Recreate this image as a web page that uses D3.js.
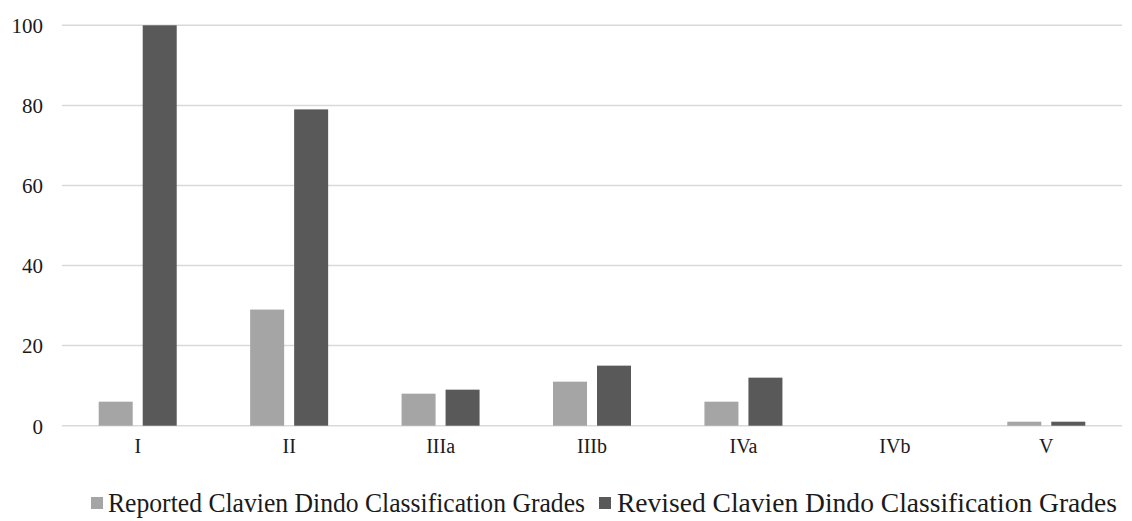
<!DOCTYPE html>
<html>
<head>
<meta charset="utf-8">
<script src="https://cdn.jsdelivr.net/npm/d3@7"></script>
<style>
  html, body { margin: 0; padding: 0; background: #fff; }
  svg { display: block; }
</style>
</head>
<body>
<svg id="chart" width="1132" height="521"></svg>
<script>
const categories = ["I", "II", "IIIa", "IIIb", "IVa", "IVb", "V"];
const reported = [6, 29, 8, 11, 6, 0, 1];
const revised = [100, 79, 9, 15, 12, 0, 1];
const seriesNames = ["Reported Clavien Dindo Classification Grades", "Revised Clavien Dindo Classification Grades"];
const yTicks = [0, 20, 40, 60, 80, 100];
const colors = ["#a5a5a5", "#595959"];

(function () {
const svg = d3.select("#chart");
const plotLeft = 62, plotRight = 1122, plotTop = 25.3, plotBottom = 425.7;
const font = "'Liberation Serif', 'Times New Roman', serif";

const x = d3.scaleBand().domain(categories).range([plotLeft, plotRight]).paddingInner(0).paddingOuter(0);
const y = d3.scaleLinear().domain([0, 100]).range([plotBottom, plotTop]);

// gridlines
svg.append("g").selectAll("line").data(yTicks).join("line")
  .attr("x1", plotLeft).attr("x2", plotRight)
  .attr("y1", d => y(d)).attr("y2", d => y(d))
  .attr("stroke", "#d9d9d9").attr("stroke-width", 1.5);

// y axis labels
const yAxis = d3.axisLeft(y).tickValues(yTicks).tickSize(0).tickPadding(0);
const yg = svg.append("g").attr("transform", `translate(${plotLeft - 19},0)`).call(yAxis);
yg.select(".domain").remove();
yg.selectAll("text").attr("font-family", font).attr("font-size", 21).attr("fill", "#1a1a1a").attr("dy", "0.35em");

// x axis labels
const xAxis = d3.axisBottom(x).tickSize(0).tickPadding(0);
const xg = svg.append("g").attr("transform", `translate(0,${plotBottom + 13})`).call(xAxis);
xg.select(".domain").remove();
xg.selectAll("text").attr("font-family", font).attr("font-size", 20).attr("fill", "#1a1a1a").attr("dy", "0.71em");

// bars
const barW = 34, gap = 10;
const sub = d3.scaleOrdinal().domain([0, 1]).range([-(gap / 2 + barW), gap / 2]);
const data = categories.map((c, i) => ({ c, vals: [reported[i], revised[i]] }));
const groups = svg.append("g").selectAll("g").data(data).join("g")
  .attr("transform", d => `translate(${x(d.c) + x.bandwidth() / 2},0)`);
groups.selectAll("rect").data(d => d.vals.map((v, k) => ({ v, k }))).join("rect")
  .attr("x", d => sub(d.k))
  .attr("width", barW)
  .attr("y", d => y(d.v))
  .attr("height", d => y(0) - y(d.v))
  .attr("fill", d => colors[d.k]);

// legend
const legend = [
  { sx: 91, tx: 108, tw: 477 },
  { sx: 599, tx: 617, tw: 500 }
];
const lg = svg.append("g");
legend.forEach((l, k) => {
  lg.append("rect").attr("x", l.sx).attr("y", 497).attr("width", 12).attr("height", 12).attr("fill", colors[k]);
  lg.append("text").attr("x", l.tx).attr("y", 503).attr("dy", "0.35em")
    .attr("font-family", font).attr("font-size", 27).attr("fill", "#1a1a1a")
    .attr("textLength", l.tw).attr("lengthAdjust", "spacingAndGlyphs")
    .text(seriesNames[k]);
});
})();
</script>
</body>
</html>
